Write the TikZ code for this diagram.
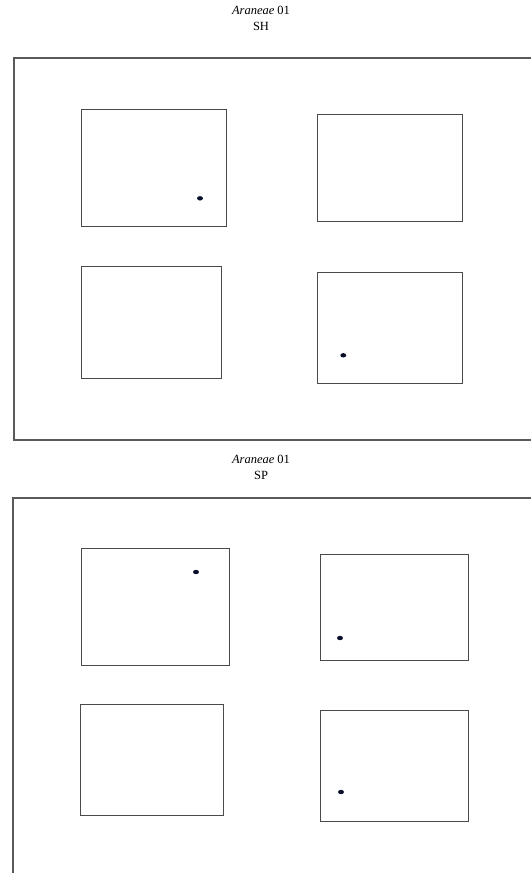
\documentclass[tikz,border=0pt]{standalone}
\usepackage{fontspec}
\setmainfont{Liberation Serif}
\definecolor{framecol}{HTML}{5A5A5A}
\definecolor{boxcol}{HTML}{4A4A4A}
\definecolor{dotcol}{HTML}{0A0F2A}
\begin{document}
\begin{tikzpicture}[x=1pt,y=-1pt,
  frameline/.style={draw=framecol,line width=1.1pt},
  panel/.style={draw=boxcol,line width=0.9pt},
  spot/.style={fill=dotcol,draw=none},
  ttl/.style={font=\fontsize{12.5}{15}\selectfont,align=center,inner sep=0pt}]
\useasboundingbox (0,0) rectangle (531,873);
% titles
\node[ttl] (t1a) at (261,10) {\textit{Araneae} 01};
\node[ttl] (t1b) at (261,26) {SH};
\node[ttl] (t2a) at (261,459) {\textit{Araneae} 01};
\node[ttl] (t2b) at (261,475) {SP};
% outer frames
\draw[frameline] (531,58) -- (14,58) -- (14,440) -- (531,440);
\draw[frameline] (531,498) -- (13,498) -- (13,873);
% top group panels
\draw[panel] (81.5,109.5) rectangle (226.7,226.7);
\draw[panel] (317.3,114.3) rectangle (462.7,221);
\draw[panel] (81,266.3) rectangle (221.7,378);
\draw[panel] (317.3,272) rectangle (462.7,383.7);
\fill[spot] (200,198.3) ellipse (3pt and 2.2pt);
\fill[spot] (343.3,355.3) ellipse (3pt and 2.2pt);
% bottom group panels
\draw[panel] (81,548) rectangle (229,665);
\draw[panel] (320,554) rectangle (468,660);
\draw[panel] (80,704) rectangle (223,815);
\draw[panel] (320,710) rectangle (468,821);
\fill[spot] (196,572) ellipse (3pt and 2.2pt);
\fill[spot] (340,638) ellipse (3pt and 2.2pt);
\fill[spot] (341,792) ellipse (3pt and 2.2pt);
\end{tikzpicture}
\end{document}
